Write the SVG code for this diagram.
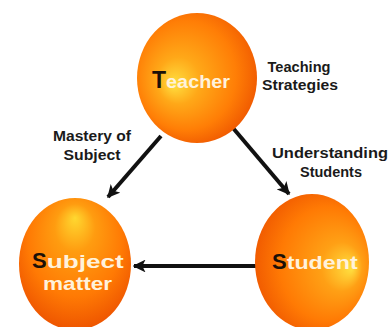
<svg xmlns="http://www.w3.org/2000/svg" width="388" height="327" viewBox="0 0 388 327">
<defs>
<radialGradient id="gT" cx="0.45" cy="0.45" r="0.6" fx="0.3" fy="0.55">
<stop offset="0" stop-color="#ffe040"/>
<stop offset="0.3" stop-color="#ffa818"/>
<stop offset="0.7" stop-color="#ff7e06"/>
<stop offset="1" stop-color="#ee5500"/>
</radialGradient>
<radialGradient id="gS" cx="0.5" cy="0.4" r="0.6" fx="0.5" fy="0.15">
<stop offset="0" stop-color="#ffd830"/>
<stop offset="0.3" stop-color="#ff9c10"/>
<stop offset="0.7" stop-color="#ff7a04"/>
<stop offset="1" stop-color="#ee5500"/>
</radialGradient>
<radialGradient id="gU" cx="0.55" cy="0.5" r="0.6" fx="0.85" fy="0.55">
<stop offset="0" stop-color="#ffe040"/>
<stop offset="0.3" stop-color="#ffa015"/>
<stop offset="0.7" stop-color="#ff7a04"/>
<stop offset="1" stop-color="#ee5500"/>
</radialGradient>
<marker id="ah" viewBox="0 0 10 10" refX="9" refY="5" markerWidth="3.2" markerHeight="3.2" orient="auto" markerUnits="strokeWidth">
<path d="M0,0 L10,5 L0,10 L2.5,5 Z" fill="#111"/>
</marker>
</defs>
<style>
.lbl{font-family:"Liberation Sans",Arial,sans-serif;font-weight:bold;font-size:14.5px;fill:#1a1a1a;text-anchor:middle}
.big{font-family:"Liberation Sans",Arial,sans-serif;font-weight:bold;fill:#1a1008}
.rest{font-family:"Liberation Sans",Arial,sans-serif;font-weight:bold;fill:#fff2dc}
.conn{stroke:#111;stroke-width:4;fill:none;marker-end:url(#ah)}
</style>
<rect width="388" height="327" fill="#ffffff"/>
<g id="connectors">
<line class="conn" x1="161" y1="136" x2="108" y2="197"/>
<line class="conn" x1="233" y1="128" x2="289" y2="194"/>
<line class="conn" x1="257" y1="266" x2="134" y2="266"/>
</g>
<g id="teacher">
<ellipse cx="197" cy="78" rx="60" ry="65" fill="url(#gT)"/>
<text x="152" y="88"><tspan class="big" font-size="23">T</tspan><tspan class="rest" font-size="19" textLength="64" lengthAdjust="spacingAndGlyphs">eacher</tspan></text>
</g>
<g id="subject">
<ellipse cx="75" cy="264" rx="56" ry="66" fill="url(#gS)"/>
<text x="32" y="268"><tspan class="big" font-size="22">S</tspan><tspan class="rest" font-size="19" textLength="77" lengthAdjust="spacingAndGlyphs">ubject</tspan></text>
<text class="rest" x="43" y="290" font-size="19" textLength="69" lengthAdjust="spacingAndGlyphs">matter</text>
</g>
<g id="student">
<ellipse cx="312" cy="262" rx="57" ry="68" fill="url(#gU)"/>
<text x="272" y="269"><tspan class="big" font-size="22">S</tspan><tspan class="rest" font-size="19" textLength="71" lengthAdjust="spacingAndGlyphs">tudent</tspan></text>
</g>
<g id="labels">
<text class="lbl" x="299" y="72" textLength="63" lengthAdjust="spacingAndGlyphs">Teaching</text>
<text class="lbl" x="300" y="90" textLength="76" lengthAdjust="spacingAndGlyphs">Strategies</text>
<text class="lbl" x="92" y="141" textLength="78" lengthAdjust="spacingAndGlyphs">Mastery of</text>
<text class="lbl" x="92" y="160" textLength="57" lengthAdjust="spacingAndGlyphs">Subject</text>
<text class="lbl" x="330" y="158" textLength="116" lengthAdjust="spacingAndGlyphs">Understanding</text>
<text class="lbl" x="331" y="177" textLength="62" lengthAdjust="spacingAndGlyphs">Students</text>
</g>
</svg>
